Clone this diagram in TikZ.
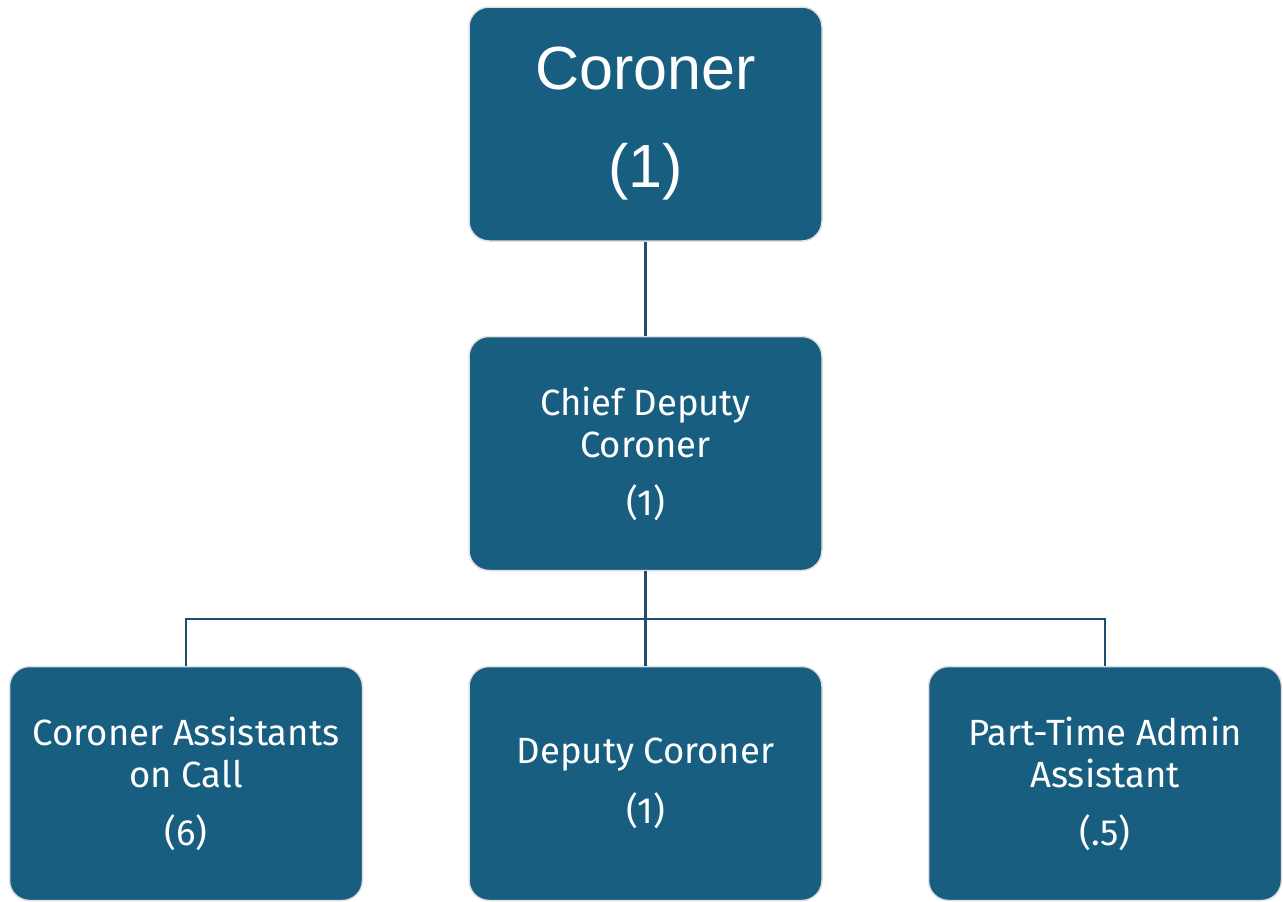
\documentclass[tikz,border=0pt]{standalone}
\usepackage{fontspec}
\setmainfont{Fira Sans}
\newfontfamily\headfont{Liberation Sans}
\definecolor{boxblue}{HTML}{185E81}
\definecolor{linkblue}{HTML}{1F4E6C}
\begin{document}
\begin{tikzpicture}[x=1pt,y=-1pt,
  orgbox/.style={draw=black!12, line width=1.5pt, fill=boxblue, rounded corners=20pt,
    minimum width=353pt, minimum height=234pt, inner sep=0pt, text=white, align=center,
    font=\fontsize{36.5}{42}\selectfont},
  link/.style={draw=linkblue, line width=2.5pt}]
\useasboundingbox (0,0) rectangle (1283,902);
% boxes
\node[orgbox, font=\headfont\fontsize{61}{98}\selectfont] (cor) at (645.5,124) {Coroner\\(1)};
\node[orgbox] (chief) at (645.5,453.5) {Chief Deputy\\Coroner\\[16pt](1)};
\node[orgbox] (assist) at (186,783.5) {Coroner Assistants\\on Call\\[16pt](6)};
\node[orgbox] (deputy) at (645.5,783.5) {Deputy Coroner\\[18pt](1)};
\node[orgbox] (admin) at (1105,783.5) {Part-Time Admin\\Assistant\\[16pt](.5)};
% connectors
\coordinate (bus) at (645.5,619);
\draw[link] (cor.south) -- (chief.north);
\draw[link] (chief.south) -- (deputy.north);
\draw[link] (assist.north) |- (bus) -| (admin.north);
\end{tikzpicture}
\end{document}
